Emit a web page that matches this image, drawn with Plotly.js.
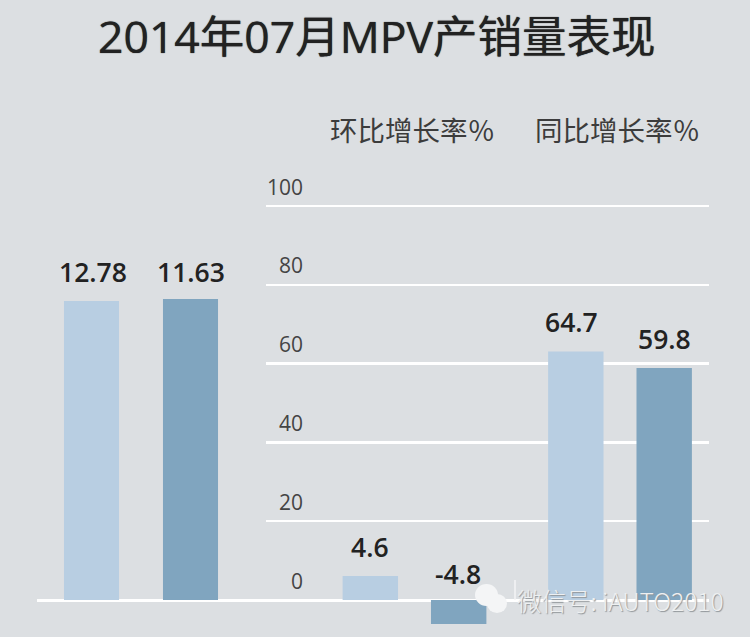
<!DOCTYPE html>
<html><head><meta charset="utf-8">
<script src="https://cdn.plot.ly/plotly-3.0.1.min.js"></script>
<style>html,body{margin:0;padding:0;background:#dcdfe2}</style></head>
<body><div id="chart" style="width:750px;height:637px"></div>
<script>
const titleText = '2014年07月MPV产销量表现';
const mainCategories = ['产量', '销量'];
const mainHeights = [11.96, 12.04];
const mainLabels = ['12.78', '11.63'];
const rateCategories = ['环比增长率％', '同比增长率％'];
const rateOutputHeights = [6.1, 63.1];
const rateSalesHeights = [-6.1, 58.9];
const rateOutputLabels = ['4.6', '64.7'];
const rateSalesLabels = ['-4.8', '59.8'];
const rateTicks = [0, 20, 40, 60, 80, 100];
const watermark = '微信号: iAUTO2010';

const LIGHT = '#b8cee2', DARK = '#80a5bf', BG = '#dcdfe2';
const cjk = '"Noto Sans CJK SC", "Noto Sans", sans-serif';
const num = '"Open Sans", "Noto Sans CJK SC", sans-serif';

const traces = [
  {type:'bar', x:mainCategories, y:mainHeights, width:0.556, xaxis:'x', yaxis:'y',
   marker:{color:[LIGHT, DARK]}, hoverinfo:'skip'},
  {type:'bar', x:rateCategories, y:rateOutputHeights, xaxis:'x2', yaxis:'y2',
   marker:{color:LIGHT}, hoverinfo:'skip'},
  {type:'bar', x:rateCategories, y:rateSalesHeights, xaxis:'x2', yaxis:'y2',
   marker:{color:DARK}, hoverinfo:'skip'}
];

const valueLabel = (xref, yref, x, y, text, xshift, yshift) => ({
  xref, yref, x, y, text, xshift, yshift, showarrow:false, yanchor:'middle', xanchor:'center',
  font:{family:num, size:26.5, color:'#222222', weight:600}
});
const paperText = (x, y, text, font) => ({
  xref:'paper', yref:'paper', x:x/750, y:1-y/637, text, font, showarrow:false,
  xanchor:'center', yanchor:'middle'
});
const annotations = [
  paperText(377, 35, titleText, {family:num, size:44.5, color:'#222222', weight:400, shadow:'0 0 1px #222222'}),
  paperText(412, 129, rateCategories[0], {family:cjk, size:27.5, color:'#3c3c3c', weight:400}),
  paperText(617, 129, rateCategories[1], {family:cjk, size:27.5, color:'#3c3c3c', weight:400}),
  valueLabel('x','y',0,mainHeights[0],mainLabels[0],1,29),
  valueLabel('x','y',1,mainHeights[1],mainLabels[1],0,27),
  valueLabel('x2','y2',0,rateOutputHeights[0],rateOutputLabels[0],-45,29),
  valueLabel('x2','y2',0,0,rateSalesLabels[0],43,26),
  valueLabel('x2','y2',1,rateOutputHeights[1],rateOutputLabels[1],-49,29),
  valueLabel('x2','y2',1,rateSalesHeights[1],rateSalesLabels[1],44,29),
  paperText(620, 600, watermark, {family:cjk, size:24.5, color:'#eef0f1', weight:300, shadow:'1px 1px 1px #8f9498'})
];

const badge = (x0, y0, x1, y1) => ({type:'circle', xref:'paper', yref:'paper',
  x0:x0/750, x1:x1/750, y0:1-y1/637, y1:1-y0/637, fillcolor:'#f4f5f6', line:{width:0}, layer:'above'});
const shapes = [
  badge(475, 584, 498, 606),
  badge(487, 594, 507, 613),
  {type:'line', xref:'paper', yref:'paper', x0:515/750, x1:515/750, y0:1-580/637, y1:1-600/637,
   line:{color:'#f4f5f6', width:1.5}, layer:'above'}
];

const layout = {
  width:750, height:637, margin:{l:0,r:0,t:0,b:0},
  paper_bgcolor:BG, plot_bgcolor:'rgba(0,0,0,0)', showlegend:false,
  barmode:'group', bargap:0.14, bargroupgap:0.373,
  xaxis:{domain:[37/750,266/750], range:[-0.5505,1.7626], type:'category', anchor:'y', visible:false, fixedrange:true},
  yaxis:{domain:[0,1], range:[-1.48,24.0], anchor:'x', showgrid:false, showticklabels:false, ticks:'', showline:false,
         zeroline:true, zerolinecolor:'#ffffff', zerolinewidth:3, fixedrange:true},
  xaxis2:{domain:[266/750,709/750], range:[-0.7226,1.433], type:'category', anchor:'y2', visible:false, fixedrange:true},
  yaxis2:{domain:[0,1], range:[-9.39,152.28], anchor:'free', position:303/750, overlaying:false,
          tickmode:'array', tickvals:rateTicks, ticktext:rateTicks.map(String),
          ticklabelposition:'outside top', ticklabelshift:-4, ticks:'',
          tickfont:{family:num, size:21, color:'#444444'},
          showgrid:true, gridcolor:'#ffffff', gridwidth:2.5,
          zeroline:true, zerolinecolor:'#ffffff', zerolinewidth:3, showline:false, fixedrange:true},
  annotations, shapes
};
Plotly.newPlot('chart', traces, layout, {staticPlot:true, displayModeBar:false});
</script></body></html>
